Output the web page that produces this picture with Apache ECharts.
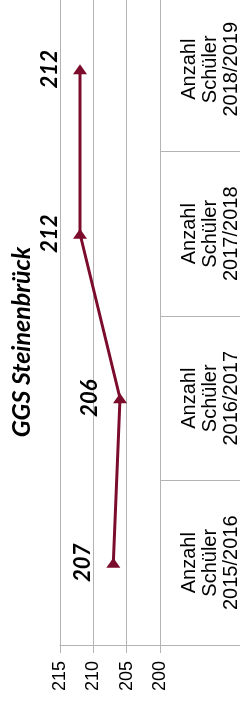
<!DOCTYPE html>
<html>
<head>
<meta charset="utf-8">
<script src="https://cdn.jsdelivr.net/npm/echarts@6/dist/echarts.min.js"></script>
<style>
html, body { margin: 0; padding: 0; background: #fff; }
#main { width: 241px; height: 713px; }
</style>
</head>
<body>
<div id="main"></div>
<script>
var categories = ['Anzahl\nSchüler\n2015/2016', 'Anzahl\nSchüler\n2016/2017', 'Anzahl\nSchüler\n2017/2018', 'Anzahl\nSchüler\n2018/2019'];
var schueler = [207, 206, 212, 212];
var titleText = 'GGS Steinenbrück';

var chartDom = document.getElementById('main');
var myChart = echarts.init(chartDom);
var option;

option = {
    animation: false,
    grid: {
        left: 60,
        right: 81,
        top: -13,
        bottom: 68,
        outerBoundsMode: 'none',
        containLabel: false
    },
    graphic: [
        {
            type: 'text',
            x: 22,
            y: 342,
            rotation: Math.PI / 2,
            style: {
                text: titleText,
                font: 'italic bold 25px Lato, "Open Sans", sans-serif',
                fill: '#000',
                textAlign: 'center',
                textVerticalAlign: 'middle'
            }
        }
    ],
    xAxis: {
        type: 'value',
        inverse: true,
        min: 200,
        max: 215,
        interval: 5,
        position: 'bottom',
        axisLine: { show: true, lineStyle: { color: '#b3b3b3', width: 1 } },
        axisTick: { show: true, length: 8, lineStyle: { color: '#b3b3b3' } },
        axisLabel: {
            rotate: 90,
            margin: 16,
            color: '#000',
            fontSize: 18,
            fontFamily: '"Liberation Sans", Arial, sans-serif'
        },
        splitLine: { show: true, lineStyle: { color: '#b3b3b3', width: 1 } }
    },
    yAxis: {
        type: 'category',
        data: categories,
        position: 'right',
        axisLine: { show: true, onZero: false, lineStyle: { color: '#b3b3b3', width: 1 } },
        axisTick: { show: true, length: 80, alignWithLabel: false, lineStyle: { color: '#b3b3b3' } },
        axisLabel: {
            interval: 0,
            rotate: 90,
            margin: 19,
            color: '#000',
            fontSize: 20,
            lineHeight: 21,
            align: 'center',
            fontFamily: '"Liberation Sans", Arial, sans-serif'
        },
        splitLine: { show: false }
    },
    series: [
        {
            name: titleText,
            type: 'line',
            data: schueler,
            symbol: 'triangle',
            symbolSize: [14, 10],
            lineStyle: { color: '#7b0c2c', width: 3 },
            itemStyle: { color: '#7b0c2c' },
            label: {
                show: true,
                position: 'left',
                distance: 12,
                rotate: 90,
                align: 'center',
                verticalAlign: 'bottom',
                color: '#000',
                fontSize: 22,
                fontStyle: 'italic',
                fontWeight: 'bold',
                fontFamily: 'Lato, "Open Sans", sans-serif'
            }
        }
    ]
};

option && myChart.setOption(option);
</script>
</body>
</html>
